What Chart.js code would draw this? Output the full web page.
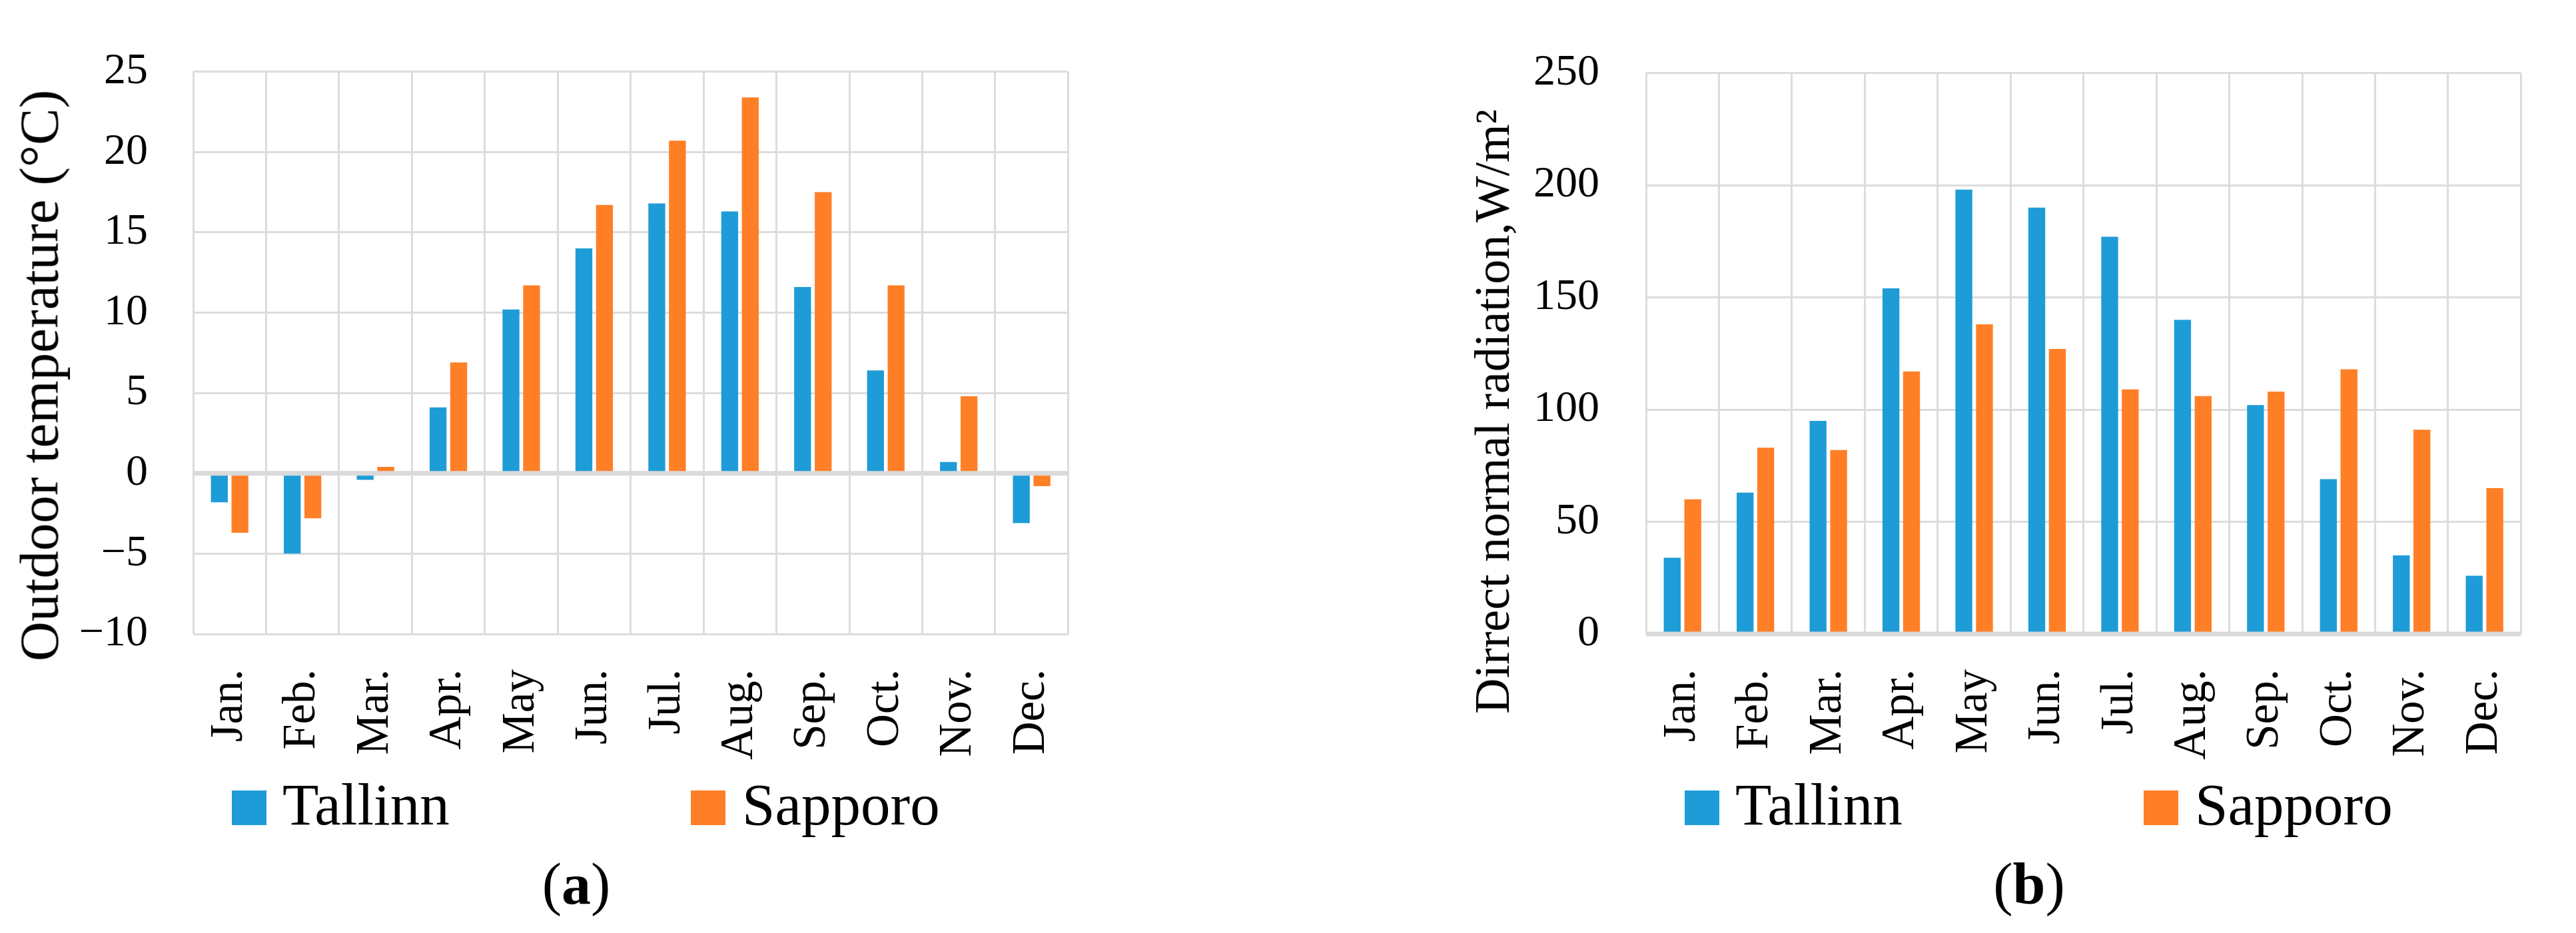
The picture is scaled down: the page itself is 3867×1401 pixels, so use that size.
<!DOCTYPE html>
<html>
<head>
<meta charset="utf-8">
<title>Outdoor temperature and direct normal radiation: Tallinn / Sapporo</title>
<script src="https://cdn.jsdelivr.net/npm/chart.js@4.4.0/dist/chart.umd.min.js"></script>
<style>
	html, body { margin: 0; padding: 0; background: #fff; }
	body { width: 3867px; height: 1401px; position: relative; overflow: hidden; font-family: 'Liberation Serif', serif; color: #000; }
	.panel { position: absolute; top: 0; width: 1686px; height: 1401px; }
	.panel canvas { position: absolute; left: 0; top: 0; }
	.ytitle { position: absolute; left: 59px; white-space: nowrap; line-height: 1; transform: translate(-50%, -50%) rotate(-90deg); }
	.key { position: absolute; top: 1187px; width: 52px; height: 52px; }
	.key-label { position: absolute; top: 1164px; font-size: 89px; line-height: 89px; white-space: nowrap; }
	.caption { position: absolute; left: 665px; top: 1284px; width: 400px; text-align: center; font-size: 88px; line-height: 88px; }
</style>
</head>
<body>

<div class="panel" style="left:0">
	<canvas id="tempChart" width="1686" height="1160"></canvas>
	<div class="ytitle" style="top:564px; font-size:83px">Outdoor temperature (°C)</div>
	<div class="key" style="left:348px; background:#1E9CD7"></div>
	<div class="key-label" style="left:424px">Tallinn</div>
	<div class="key" style="left:1037px; background:#FF7F27"></div>
	<div class="key-label" style="left:1114px">Sapporo</div>
	<div class="caption">(<b>a</b>)</div>
</div>

<div class="panel" style="left:2181px">
	<canvas id="radChart" width="1686" height="1160"></canvas>
	<div class="ytitle" style="top:618px; font-size:74px">Dirrect normal radiation,W/m²</div>
	<div class="key" style="left:348px; background:#1E9CD7"></div>
	<div class="key-label" style="left:424px">Tallinn</div>
	<div class="key" style="left:1037px; background:#FF7F27"></div>
	<div class="key-label" style="left:1114px">Sapporo</div>
	<div class="caption">(<b>b</b>)</div>
</div>

<script>
const months = ['Jan.', 'Feb.', 'Mar.', 'Apr.', 'May', 'Jun.', 'Jul.', 'Aug.', 'Sep.', 'Oct.', 'Nov.', 'Dec.'];

// (a) outdoor temperature, °C
const tallinnTemp = [-1.8, -5.0, -0.4, 4.1, 10.2, 14.0, 16.8, 16.3, 11.6, 6.4, 0.7, -3.1];
const sapporoTemp = [-3.7, -2.8, 0.4, 6.9, 11.7, 16.7, 20.7, 23.4, 17.5, 11.7, 4.8, -0.8];
const tempTicks = { min: -10, max: 25, step: 5 };

// (b) direct normal radiation, W/m2
const tallinnRad = [34, 63, 95, 154, 198, 190, 177, 140, 102, 69, 35, 26];
const sapporoRad = [60, 83, 82, 117, 138, 127, 109, 106, 108, 118, 91, 65];
const radTicks = { min: 0, max: 250, step: 50 };

const BLUE = '#1E9CD7';
const ORANGE = '#FF7F27';
const GRID = '#dcdcdc';
const FONT = "'Liberation Serif', 'Times New Roman', serif";

// thick grey line at value 0, drawn over the bars like the category axis
const zeroLine = {
	id: 'zeroLine',
	afterDatasetsDraw(chart) {
		const { ctx, chartArea, scales } = chart;
		const y = scales.y.getPixelForValue(0);
		ctx.save();
		ctx.strokeStyle = '#d9d9d9';
		ctx.lineWidth = 7;
		ctx.beginPath();
		ctx.moveTo(chartArea.left, y);
		ctx.lineTo(chartArea.right, y);
		ctx.stroke();
		ctx.restore();
	}
};

function barChart(canvas, tallinn, sapporo, range, tickPad) {
	return new Chart(canvas, {
		type: 'bar',
		data: {
			labels: months,
			datasets: [
				{ label: 'Tallinn', data: tallinn, backgroundColor: BLUE },
				{ label: 'Sapporo', data: sapporo, backgroundColor: ORANGE },
			],
		},
		options: {
			responsive: false,
			devicePixelRatio: 1,
			animation: false,
			layout: {
				padding: { left: 0, right: 37, top: 63, bottom: 0 }
			},
			datasets: {
				bar: { categoryPercentage: 0.565, barPercentage: 0.82, borderWidth: 0 }
			},
			plugins: {
				legend: { display: false },
				tooltip: { enabled: false }
			},
			scales: {
				x: {
					grid: { offset: true, color: GRID, lineWidth: 3, drawTicks: false },
					border: { display: false },
					ticks: {
						autoSkip: false,
						minRotation: 90,
						maxRotation: 90,
						padding: 53,
						color: '#000',
						font: { family: FONT, size: 69 }
					},
					afterFit: scale => { scale.height = 208; }
				},
				y: {
					min: range.min,
					max: range.max,
					grid: { color: GRID, lineWidth: 3, drawTicks: false },
					border: { display: false },
					ticks: {
						stepSize: range.step,
						padding: tickPad,
						color: '#000',
						font: { family: FONT, size: 66 },
						callback: v => v < 0 ? '\u2212' + Math.abs(v) : String(v)
					},
					afterFit: scale => { scale.width = 290; }
				}
			}
		},
		plugins: [zeroLine]
	});
}

barChart(document.getElementById('tempChart'), tallinnTemp, sapporoTemp, tempTicks, 68);
barChart(document.getElementById('radChart'), tallinnRad, sapporoRad, radTicks, 70);
</script>
</body>
</html>
